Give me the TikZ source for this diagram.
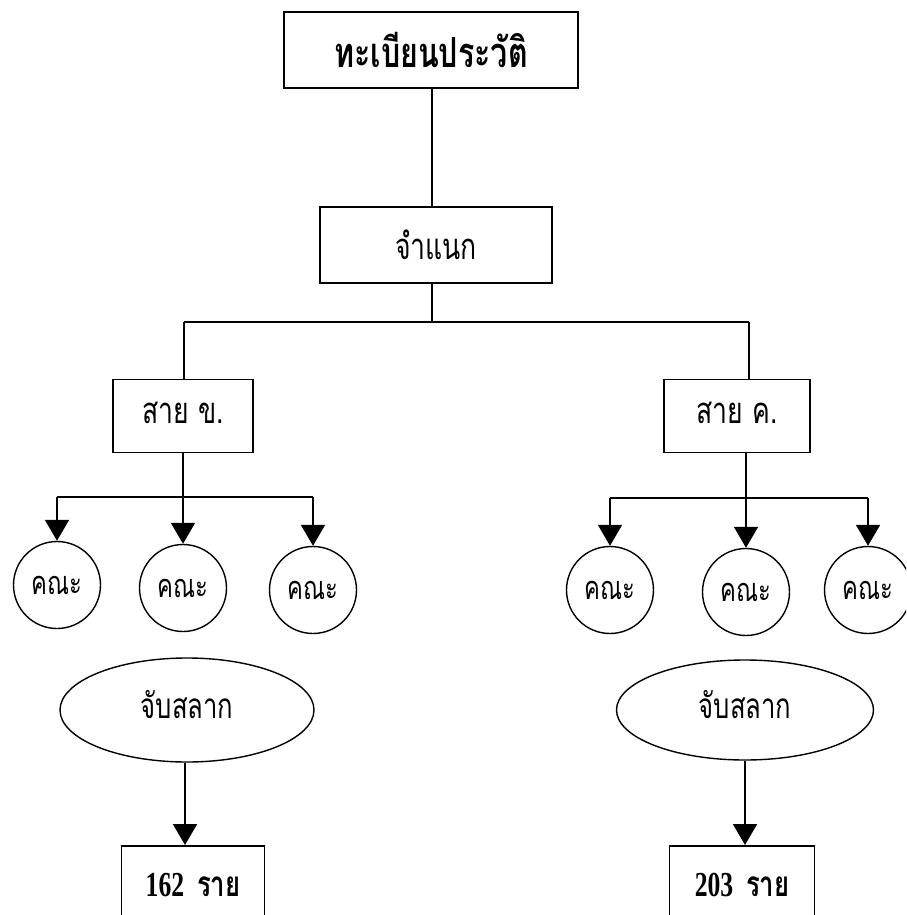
\documentclass[tikz,border=0pt]{standalone}
\usepackage{fontspec}
\newfontfamily\thai[Script=Thai]{Loma}
\newfontfamily\numf{Liberation Serif}
\usetikzlibrary{arrows.meta,shapes.geometric}
\newcommand{\tall}[1]{\scalebox{0.95}[1.3]{#1}}
\tikzset{
  box/.style={draw,line width=1.8pt,rectangle,inner sep=0pt,font=\thai\fontsize{28}{30}\selectfont},
  cir/.style={draw,line width=1.4pt,circle,minimum size=87pt,inner sep=0pt,font=\thai\fontsize{25}{26}\selectfont},
  ell/.style={draw,line width=1.4pt,ellipse,inner sep=0pt,font=\thai\fontsize{27}{28}\selectfont},
  ln/.style={line width=1.8pt},
  arr/.style={line width=1.8pt,-{Triangle[width=24pt,length=21pt]}},
}
\begin{document}
\begin{tikzpicture}[x=1pt,y=-1pt]
\useasboundingbox (0,0) rectangle (906,915);
\clip (0,0) rectangle (906,915);
\fill[white] (0,0) rectangle (906,915);
% boxes
\node[box,minimum width=294pt,minimum height=76pt,font=\thai\bfseries\fontsize{32}{36}\selectfont] (top) at (431,50) {\tall{ทะเบียนประวัติ}};
\node[box,minimum width=232pt,minimum height=76pt] (jam) at (436,245) {\tall{จำแนก}};
\node[box,minimum width=140pt,minimum height=73pt] (saiK) at (183,416) {\raisebox{6pt}{\tall{สาย ข.}}};
\node[box,minimum width=146pt,minimum height=73pt] (saiC) at (737,416) {\raisebox{6pt}{\tall{สาย ค.}}};
% junction
\coordinate (jL) at (184,322);
\coordinate (jR) at (749,322);
\draw[ln] (top.south -| 432,0) -- (432,207);
\draw[ln] (432,283) -- (432,322);
\draw[ln] (jL) -- (jR);
\draw[ln] (jL) -- (jL |- saiK.north);
\draw[ln] (jR) -- (jR |- saiC.north);
% circles left
\node[cir] (kL1) at (57,585) {\tall{คณะ}};
\node[cir] (kL2) at (183,588) {\tall{คณะ}};
\node[cir] (kL3) at (313,590) {\tall{คณะ}};
\coordinate (bL) at (183,497);
\draw[ln] (saiK.south) -- (bL);
\draw[ln] (kL1.north |- bL) -- (kL3.north |- bL);
\draw[arr] (kL1.north |- bL) -- (kL1.north);
\draw[arr] (bL) -- (kL2.north);
\draw[arr] (kL3.north |- bL) -- (kL3.north);
% circles right
\node[cir] (kR1) at (610,590) {\tall{คณะ}};
\node[cir] (kR2) at (746,592) {\tall{คณะ}};
\node[cir] (kR3) at (868,590) {\tall{คณะ}};
\coordinate (bR) at (746,498);
\draw[ln] (saiC.south -| bR) -- (bR);
\draw[ln] (kR1.north |- bR) -- (kR3.north |- bR);
\draw[arr] (kR1.north |- bR) -- (kR1.north);
\draw[arr] (bR) -- (kR2.north);
\draw[arr] (kR3.north |- bR) -- (kR3.north);
% ellipses
\node[ell,minimum width=254pt,minimum height=104pt] (ellL) at (187,710) {\raisebox{12pt}{\tall{จับสลาก}}};
\node[ell,minimum width=257pt,minimum height=100pt] (ellR) at (745,710) {\raisebox{12pt}{\tall{จับสลาก}}};
% bottom boxes
\node[box,minimum width=143pt,minimum height=90pt,anchor=north,font=\numf\bfseries\fontsize{27}{28}\selectfont] (boxL) at (193,845) {\raisebox{12pt}{\tall{162\ \ {\thai\bfseries ราย}}}};
\node[box,minimum width=145pt,minimum height=90pt,anchor=north,font=\numf\bfseries\fontsize{27}{28}\selectfont] (boxR) at (742,845) {\raisebox{12pt}{\tall{203\ \ {\thai\bfseries ราย}}}};
\draw[arr] (ellL.south -| 185,0) -- (185,845);
\draw[arr] (ellR.south -| 745,0) -- (745,845);
\end{tikzpicture}
\end{document}
